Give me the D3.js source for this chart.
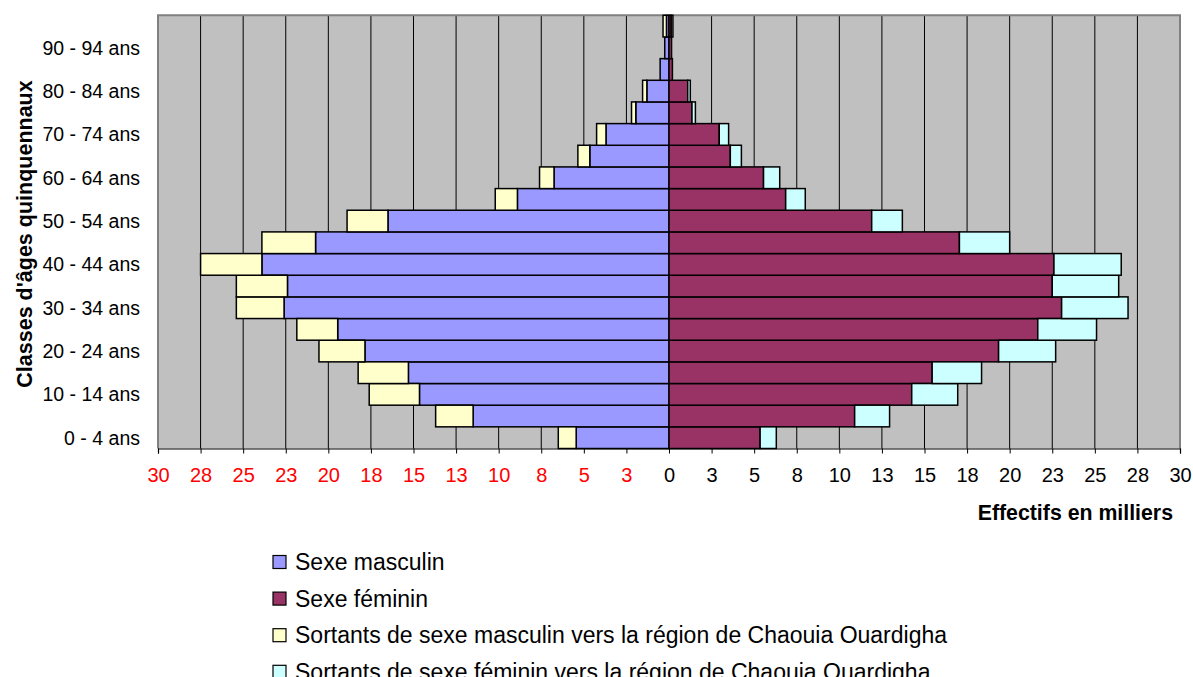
<!DOCTYPE html>
<html>
<head>
<meta charset="utf-8">
<script src="https://cdn.jsdelivr.net/npm/d3@7"></script>
<style>
  html, body { margin: 0; padding: 0; background: #fff; }
  svg { display: block; font-family: Arial, "Liberation Sans", sans-serif; }
</style>
</head>
<body>
<svg id="chart" width="1193" height="677"></svg>
<script>
// Age classes, bottom to top
const ageClasses = ["0 - 4 ans","5 - 9 ans","10 - 14 ans","15 - 19 ans","20 - 24 ans","25 - 29 ans",
  "30 - 34 ans","35 - 39 ans","40 - 44 ans","45 - 49 ans","50 - 54 ans","55 - 59 ans","60 - 64 ans",
  "65 - 69 ans","70 - 74 ans","75 - 79 ans","80 - 84 ans","85 - 89 ans","90 - 94 ans","95 ans et +"];
// values in thousands
const male      = [5.45, 11.5, 14.65, 15.3, 17.85, 19.45, 22.6, 22.4, 23.9, 20.75, 16.5, 8.9, 6.75, 4.65, 3.7, 1.95, 1.3, 0.52, 0.25, 0.15];
const maleOut   = [1.05, 2.2, 2.95, 2.95, 2.7, 2.4, 2.8, 3.0, 3.6, 3.15, 2.4, 1.3, 0.85, 0.7, 0.55, 0.25, 0.25, 0, 0, 0.2];
const female    = [5.35, 10.9, 14.25, 15.45, 19.35, 21.65, 23.05, 22.5, 22.6, 17.05, 11.9, 6.85, 5.55, 3.6, 2.95, 1.35, 1.1, 0.2, 0.15, 0.13];
const femaleOut = [0.95, 2.05, 2.7, 2.9, 3.35, 3.45, 3.9, 3.9, 3.95, 2.95, 1.8, 1.15, 0.95, 0.65, 0.55, 0.2, 0.15, 0, 0, 0.1];
const xTickValues = d3.range(-30, 30.001, 2.5);
const seriesNames = ["Sexe masculin", "Sexe féminin",
  "Sortants de sexe masculin vers la région de Chaouia Ouardigha",
  "Sortants de sexe féminin vers la région de Chaouia Ouardigha"];
const seriesColors = ["#9999FF", "#993366", "#FFFFCC", "#CCFFFF"];

const svg = d3.select("#chart");
const pLeft = 158, pRight = 1180, pTop = 15.3, pBottom = 448.5;

const x = d3.scaleLinear().domain([-30, 30]).range([pLeft, pRight]);
const y = d3.scaleBand().domain(ageClasses).range([pBottom, pTop]).padding(0);

// plot background
svg.append("rect").attr("x", pLeft).attr("y", pTop).attr("width", pRight - pLeft).attr("height", pBottom - pTop)
  .attr("fill", "#C0C0C0");

// vertical gridlines
svg.append("g").selectAll("line").data(xTickValues.filter(v => v > -30 && v < 30)).join("line")
  .attr("x1", d => x(d)).attr("x2", d => x(d)).attr("y1", pTop).attr("y2", pBottom)
  .attr("stroke", "#000").attr("stroke-width", 1);

// frame
svg.append("path")
  .attr("d", `M${pLeft},${pBottom}V${pTop}H${pRight}V${pBottom}`)
  .attr("fill", "none").attr("stroke", "#808080").attr("stroke-width", 2);

// bars
const rows = ageClasses.map((a, i) => ({a, m: male[i], mo: maleOut[i], f: female[i], fo: femaleOut[i]}));
const g = svg.append("g").attr("stroke", "#000").attr("stroke-width", 1.5);
function bars(cls, x0f, x1f, color) {
  g.selectAll("rect." + cls).data(rows).join("rect").attr("class", cls)
    .attr("x", d => Math.min(x(x0f(d)), x(x1f(d))))
    .attr("width", d => Math.abs(x(x1f(d)) - x(x0f(d))))
    .attr("y", d => y(d.a)).attr("height", y.bandwidth())
    .attr("fill", color);
}
bars("m", d => -d.m, d => 0, seriesColors[0]);
bars("mo", d => -d.m - d.mo, d => -d.m, seriesColors[2]);
bars("f", d => 0, d => d.f, seriesColors[1]);
bars("fo", d => d.f, d => d.f + d.fo, seriesColors[3]);

// x axis
const xAxis = d3.axisBottom(x).tickValues(xTickValues).tickSize(5).tickPadding(14)
  .tickFormat(d => String(Math.round(Math.abs(d))));
const xa = svg.append("g").attr("transform", `translate(0,${pBottom})`).call(xAxis);
xa.select(".domain").attr("stroke", "#000").attr("stroke-width", 1.2);
xa.selectAll(".tick line").attr("stroke", "#000");
xa.selectAll(".tick text").attr("font-size", 20).attr("font-family", "Arial, 'Liberation Sans', sans-serif")
  .attr("fill", d => d < 0 ? "#FF0000" : "#000");

// y labels
const ya = svg.append("g");
ya.selectAll("text").data(ageClasses.filter((a, i) => i % 2 === 0)).join("text")
  .attr("x", 140).attr("y", d => y(d) + y.bandwidth() / 2)
  .attr("text-anchor", "end").attr("dominant-baseline", "central")
  .attr("font-size", 19.5).attr("fill", "#000").text(d => d);

// axis titles
svg.append("text").attr("transform", "translate(25,234) rotate(-90)")
  .attr("text-anchor", "middle").attr("dominant-baseline", "central")
  .attr("font-size", 21.5).attr("font-weight", "bold").text("Classes d'âges quinquennaux");
svg.append("text").attr("x", 1173).attr("y", 520).attr("text-anchor", "end")
  .attr("font-size", 21.3).attr("font-weight", "bold").text("Effectifs en milliers");

// legend
const leg = svg.append("g").selectAll("g").data(seriesNames).join("g")
  .attr("transform", (d, i) => `translate(273,${562 + i * 36.6})`);
leg.append("rect").attr("x", 0).attr("y", -6.5).attr("width", 13).attr("height", 13)
  .attr("fill", (d, i) => seriesColors[i]).attr("stroke", "#000").attr("stroke-width", 1.2);
leg.append("text").attr("x", 22).attr("y", 0).attr("dominant-baseline", "central")
  .attr("font-size", 23).text(d => d);
</script>
</body>
</html>
